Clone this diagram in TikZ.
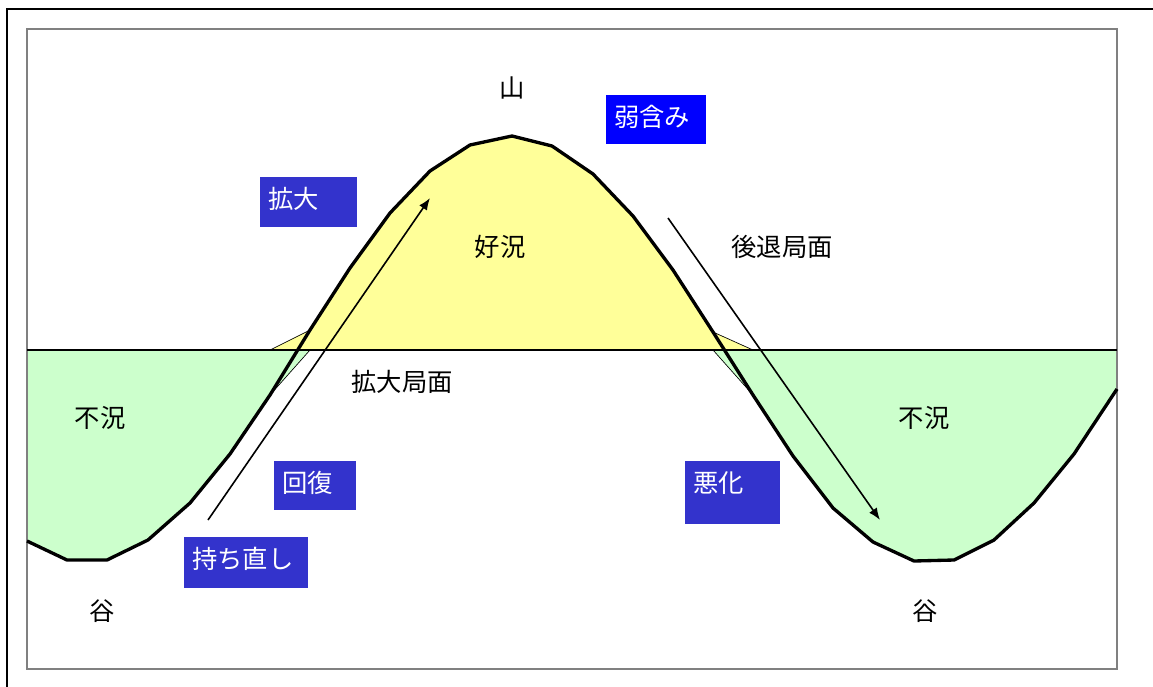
\documentclass[tikz,border=0pt]{standalone}
\usepackage{fontspec}
\newfontfamily\jp{Noto Sans CJK JP}
\usetikzlibrary{arrows.meta}
\definecolor{yel}{RGB}{255,255,153}
\definecolor{grn}{RGB}{204,255,204}
\definecolor{boxblue}{RGB}{51,51,204}
\definecolor{pureblue}{RGB}{0,0,255}
\definecolor{framegray}{RGB}{128,128,128}
\begin{document}
\begin{tikzpicture}[x=0.75pt,y=-0.75pt,
  lbl/.style={font=\jp\fontsize{19}{21}\selectfont, inner sep=0pt},
  tagbox/.style={font=\jp\fontsize{19}{21}\selectfont, text=white, fill=boxblue,
     anchor=north west, inner xsep=6pt, inner ysep=0pt, align=left, text height=23.7pt},
  fillpoly/.style={draw=black, line width=0.5pt},
  curve/.style={line width=2.5pt, line join=round},
  axis/.style={line width=1.5pt},
  arr/.style={line width=1.2pt, -{Latex[length=9pt,width=7pt]}}
]
\useasboundingbox (0,0) rectangle (1153,686);
\clip (0,0) rectangle (1153,686);
\fill[white] (0,0) rectangle (1153,686);

% fills
\path[fillpoly, fill=yel] (270,350)--(310,330)--(350,268)--(390,213)--(430,171)--(470,145)--(512,136)--(552,146)--(593,174)--(633,216)--(673,270)--(713,332)--(753,350)--cycle;
\path[fillpoly, fill=grn] (27,350)--(27,541)--(67,560)--(107,560)--(148,540)--(190,503)--(230,454)--(270,395)--(310,350)--cycle;
\path[fillpoly, fill=grn] (713,350)--(753,395)--(793,456)--(833,508)--(873,542)--(914,561)--(954,560)--(994,540)--(1034,503)--(1074,454)--(1117,389)--(1117,350)--cycle;

% frames
\draw[line width=1.5pt] (7,9) rectangle (1180,720);
\draw[framegray, line width=1.5pt] (27,29) rectangle (1117,669);

% axis
\draw[axis] (27,350) -- (1117,350);

% curve
\draw[curve] (27,541)--(67,560)--(107,560)--(148,540)--(190,503)--(230,454)--(270,395)--(310,330)--(350,268)--(390,213)--(430,171)--(470,145)--(512,136)--(552,146)--(593,174)--(633,216)--(673,270)--(713,332)--(753,395)--(793,456)--(833,508)--(873,542)--(914,561)--(954,560)--(994,540)--(1034,503)--(1074,454)--(1117,389);

% arrows
\coordinate (up0) at (208,520);
\coordinate (up1) at (430,198);
\coordinate (dn0) at (668,218);
\coordinate (dn1) at (880,520);
\draw[arr] (up0) -- (up1);
\draw[arr] (dn0) -- (dn1);

% plain labels
\node[lbl] (yama) at (512,88) {山};
\node[lbl] (kokyo) at (500,247) {好況};
\node[lbl] (kotai) at (782,247) {後退局面};
\node[lbl] (kakudaikyoku) at (402,382) {拡大局面};
\node[lbl] (fukyoL) at (100,418) {不況};
\node[lbl] (fukyoR) at (924,418) {不況};
\node[lbl] (taniL) at (102,611) {谷};
\node[lbl] (taniR) at (925,611) {谷};

% boxed labels
\node[tagbox, fill=pureblue, text width=63pt, text depth=13.05pt] (yowa) at (606,95) {弱含み};
\node[tagbox, text width=60.75pt, text depth=13.8pt] (kakudai) at (260,177) {拡大};
\node[tagbox, text width=49.5pt, text depth=13.05pt] (kaifuku) at (274,461) {回復};
\node[tagbox, text width=81pt, text depth=14.55pt] (mochi) at (184,537) {持ち直し};
\node[tagbox, text width=59.25pt, text depth=23.55pt] (akka) at (685,461) {悪化};
\end{tikzpicture}
\end{document}
